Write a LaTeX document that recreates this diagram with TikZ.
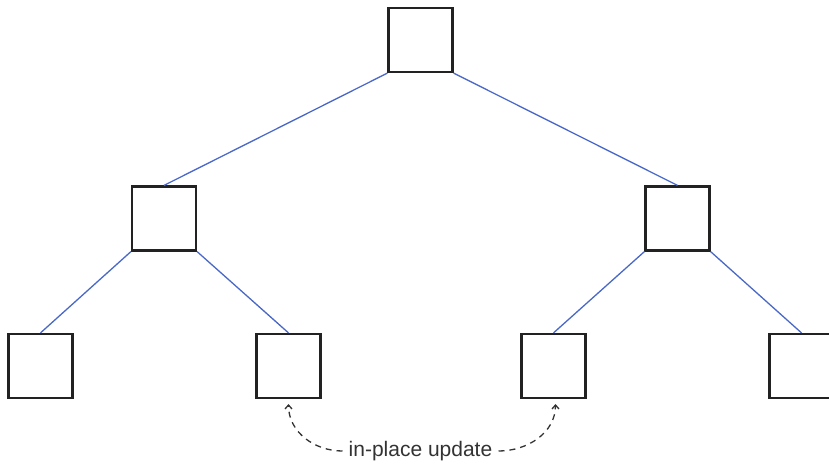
\documentclass[tikz,border=0pt]{standalone}
\usepackage{fontspec}
\setmainfont{Liberation Sans}
\usetikzlibrary{arrows.meta}
\definecolor{edgeblue}{HTML}{4A68C8}
\definecolor{boxline}{HTML}{222222}
\definecolor{txt}{HTML}{333333}
\begin{document}
\begin{tikzpicture}[x=1pt,y=-1pt,
  treebox/.style={draw=boxline,line width=2.2pt,minimum size=64pt,inner sep=0pt,fill=white},
  treeedge/.style={draw=edgeblue,line width=1.3pt},
  upd/.style={draw=txt,line width=1.3pt,dash pattern=on 6pt off 5pt,-{Straight Barb[length=4pt,width=7pt]}}]
\useasboundingbox (0,0) rectangle (829,466);
\node[treebox] (root) at (420.5,40) {};
\node[treebox] (L) at (164,218.5) {};
\node[treebox] (R) at (677.5,218.5) {};
\node[treebox] (LL) at (40.5,366) {};
\node[treebox] (LR) at (288.5,366) {};
\node[treebox] (RL) at (553.5,366) {};
\node[treebox] (RR) at (801.5,366) {};
\draw[treeedge] (root.south west) -- (L.north);
\draw[treeedge] (root.south east) -- (R.north);
\draw[treeedge] (L.south west) -- (LL.north);
\draw[treeedge] (L.south east) -- (LR.north);
\draw[treeedge] (R.south west) -- (RL.north);
\draw[treeedge] (R.south east) -- (RR.north);
\node[text=txt,font=\fontsize{21}{24}\selectfont,inner sep=6pt] (t) at (420.5,451) {in-place update};
\coordinate (aL) at (288.5,404);
\coordinate (aR) at (555.5,404);
\draw[upd] (t.west) to[out=180,in=-90] (aL);
\draw[upd] (t.east) to[out=0,in=-90] (aR);
\end{tikzpicture}
\end{document}
